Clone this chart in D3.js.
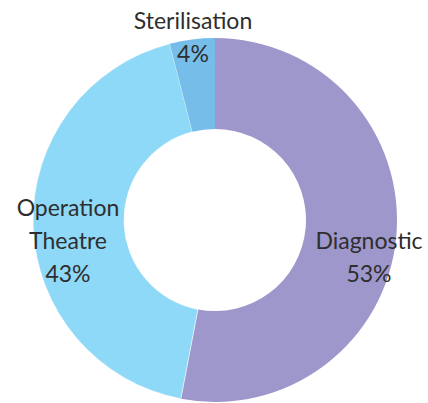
<!DOCTYPE html>
<html>
<head>
<meta charset="utf-8">
<script src="https://cdn.jsdelivr.net/npm/d3@7"></script>
<style>
  body { margin: 0; background: #fff; }
  text { font-family: Lato, "Open Sans", sans-serif; fill: #2e2e2e; font-weight: 400; }
</style>
</head>
<body>
<svg id="chart" width="428" height="403"></svg>
<script>
// data
var categories = ["Diagnostic", "Operation Theatre", "Sterilisation"];
var values = [53, 43, 4];
var labelLines = [["Diagnostic"], ["Operation", "Theatre"], ["Sterilisation"]];
var colors = ["#9e97cb", "#8ed9f7", "#76bee9"];

var width = 428, height = 403,
    cx = 215, cy = 220,
    outerR = 182, innerR = 91;

var svg = d3.select("#chart");
var g = svg.append("g")
    .attr("transform", "translate(" + cx + "," + cy + ")");

var data = categories.map(function(c, i) {
  return {name: c, value: values[i], lines: labelLines[i]};
});

var pie = d3.pie()
    .sort(null)
    .value(function(d) { return d.value; });

var arc = d3.arc()
    .innerRadius(innerR)
    .outerRadius(outerR);

var color = d3.scaleOrdinal()
    .domain(categories)
    .range(colors);

var arcs = pie(data);

g.selectAll("path.slice")
  .data(arcs)
  .join("path")
    .attr("class", "slice")
    .attr("d", arc)
    .attr("fill", function(d) { return color(d.data.name); })
    .attr("stroke", function(d) { return d.data.name == "Operation Theatre" ? "#fff" : "none"; })
    .attr("stroke-width", 0.6);

// label placement: first baseline offset from centre + line height
var lineH = 33;
var labelOffset = {
  "Diagnostic": [154, 29],
  "Operation Theatre": [-147, -4],
  "Sterilisation": [-22, -191]
};

var labels = g.selectAll("text.label")
  .data(arcs)
  .join("text")
    .attr("class", "label")
    .attr("text-anchor", "middle")
    .style("font-size", "23px");

labels.each(function(d) {
  var t = d3.select(this),
      off = labelOffset[d.data.name],
      lines = d.data.lines.concat([d.data.value + "%"]);
  lines.forEach(function(l, i) {
    t.append("tspan")
      .attr("x", off[0])
      .attr("y", off[1] + i * lineH)
      .text(l);
  });
});
</script>
</body>
</html>
